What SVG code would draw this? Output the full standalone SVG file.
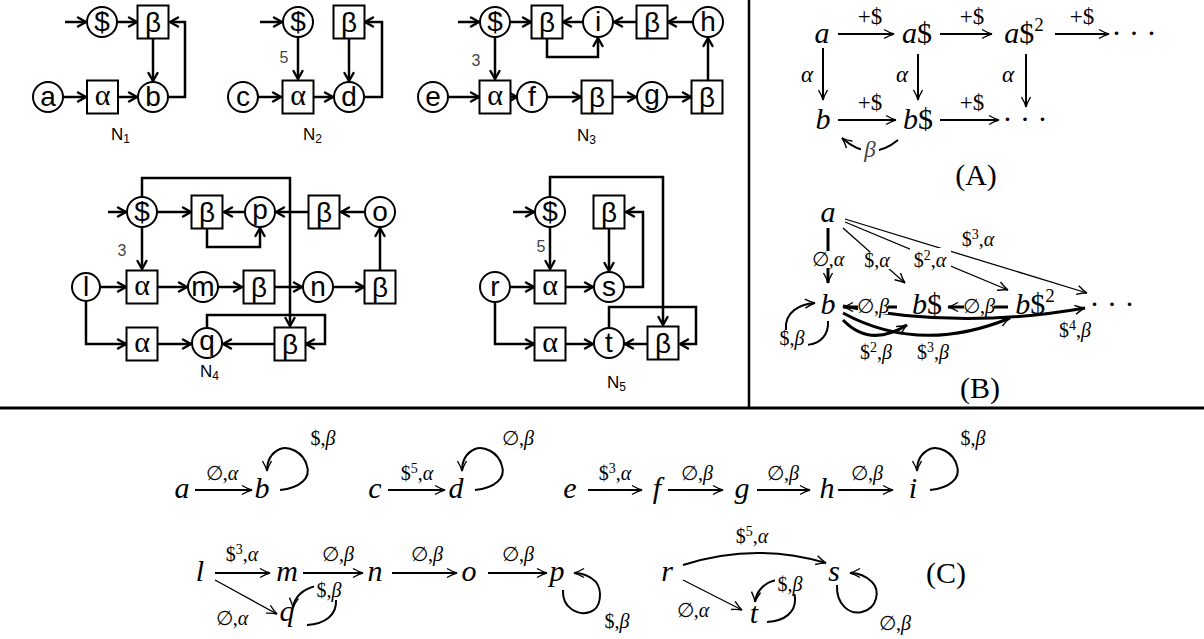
<svg xmlns="http://www.w3.org/2000/svg" width="1204" height="639" viewBox="0 0 1204 639">
<style>
.c{fill:#fff;stroke:#000;stroke-width:2}
.t{font-family:"Liberation Sans",Arial,sans-serif;font-size:28px;text-anchor:middle}
.al{font-family:"Liberation Serif",serif;font-size:30px;text-anchor:middle}
.w{fill:none;stroke:#000;stroke-width:2.5;marker-end:url(#ah)}
.nl{font-family:"Liberation Sans",Arial,sans-serif;font-size:17px}
.sub{font-size:12px}
.num{font-family:"Liberation Sans",Arial,sans-serif;font-size:16px;fill:#444;text-anchor:middle}
.m{font-family:"Liberation Serif","DejaVu Serif",serif;font-size:30px;font-style:italic;text-anchor:middle}
.up{font-style:normal}
.l{font-family:"Liberation Serif","DejaVu Serif",serif;font-size:20px;text-anchor:middle}
.pl{font-family:"Liberation Serif","DejaVu Serif",serif;font-size:23px;text-anchor:middle}
.i{font-style:italic}
.bg{fill:#fff;stroke:none}
.cap{font-family:"Liberation Serif","DejaVu Serif",serif;font-size:30px;text-anchor:middle}
.e{fill:none;stroke:#000;stroke-width:2;marker-end:url(#la)}
.e3{fill:none;stroke:#000;stroke-width:3;marker-end:url(#la)}
.e1{fill:none;stroke:#000;stroke-width:1.3;marker-end:url(#la)}
.frame{stroke:#000;fill:none}
</style>
<defs>
<marker id="ah" viewBox="0 0 12 12" refX="10" refY="6" markerWidth="12" markerHeight="12" markerUnits="userSpaceOnUse" orient="auto"><path d="M2,1.5 L10,6 L2,10.5" fill="none" stroke="#000" stroke-width="2.4" stroke-linejoin="round" stroke-linecap="round"/></marker>
<marker id="la" viewBox="0 0 12 12" refX="11" refY="6" markerWidth="12" markerHeight="12" markerUnits="userSpaceOnUse" orient="auto"><path d="M1,1.5 Q7,5 11,6 Q7,7 1,10.5" fill="none" stroke="#000" stroke-width="1.4"/></marker>
</defs>
<rect width="1204" height="639" fill="#fff"/>
<g id="frame" class="frame">
<line x1="749" y1="0" x2="749" y2="408" stroke-width="2.5"/>
<line x1="0" y1="408" x2="1204" y2="408" stroke-width="3"/>
</g>

<!-- N1 -->
<g id="N1-connectors">
<line class="w" x1="65" y1="22" x2="86" y2="22"/>
<line class="w" x1="117" y1="22" x2="137" y2="22"/>
<line class="w" x1="153" y1="39" x2="153" y2="81"/>
<line class="w" x1="63" y1="97" x2="86" y2="97"/>
<line class="w" x1="117" y1="97" x2="137" y2="97"/>
<polyline class="w" points="168,97 185,97 185,22 170,22"/>
</g>
<g id="N1-s"><circle class="c" cx="102" cy="22" r="15"/><text class="t" x="102" y="31">$</text></g>
<g id="N1-beta"><rect class="c" x="137.5" y="5.5" width="31" height="33"/><text class="t" x="153" y="32">β</text></g>
<g id="N1-a"><circle class="c" cx="48" cy="97" r="15"/><text class="t" x="48" y="106">a</text></g>
<g id="N1-alpha"><rect class="c" x="87" y="80.5" width="31" height="33"/><text class="al" x="102.5" y="105">α</text></g>
<g id="N1-b"><circle class="c" cx="153" cy="97" r="15"/><text class="t" x="153" y="106">b</text></g>
<text class="nl" x="111" y="140">N<tspan class="sub" dy="3">1</tspan></text>

<!-- N2 -->
<g id="N2-connectors">
<line class="w" x1="260" y1="22" x2="282" y2="22"/>
<line class="w" x1="298" y1="37" x2="298" y2="79"/>
<line class="w" x1="258" y1="97" x2="281" y2="97"/>
<line class="w" x1="313" y1="97" x2="333" y2="97"/>
<line class="w" x1="349" y1="39" x2="349" y2="81"/>
<polyline class="w" points="364,97 382,97 382,22 365,22"/>
<text class="num" x="284" y="63">5</text>
</g>
<g id="N2-s"><circle class="c" cx="298" cy="22" r="15"/><text class="t" x="298" y="31">$</text></g>
<g id="N2-beta"><rect class="c" x="333.5" y="5.5" width="31" height="33"/><text class="t" x="349" y="32">β</text></g>
<g id="N2-c"><circle class="c" cx="243" cy="97" r="15"/><text class="t" x="243" y="106">c</text></g>
<g id="N2-alpha"><rect class="c" x="282.5" y="80.5" width="31" height="33"/><text class="al" x="298" y="105">α</text></g>
<g id="N2-d"><circle class="c" cx="349" cy="97" r="15"/><text class="t" x="349" y="106">d</text></g>
<text class="nl" x="303" y="140">N<tspan class="sub" dy="3">2</tspan></text>

<!-- N3 -->
<g id="N3-connectors">
<line class="w" x1="458" y1="22" x2="479" y2="22"/>
<line class="w" x1="510" y1="22" x2="531" y2="22"/>
<line class="w" x1="583" y1="22" x2="563" y2="22"/>
<line class="w" x1="637" y1="22" x2="614" y2="22"/>
<line class="w" x1="693" y1="22" x2="668" y2="22"/>
<polyline class="w" points="547,38.5 547,57 598,57 598,38"/>
<line class="w" x1="495" y1="37" x2="495" y2="79"/>
<line class="w" x1="448" y1="97" x2="479" y2="97"/>
<line class="w" x1="510" y1="97" x2="517" y2="97"/>
<line class="w" x1="547" y1="97" x2="581" y2="97"/>
<line class="w" x1="613" y1="97" x2="636" y2="97"/>
<line class="w" x1="667" y1="97" x2="691" y2="97"/>
<line class="w" x1="708" y1="80" x2="708" y2="38"/>
<text class="num" x="476" y="66">3</text>
</g>
<g id="N3-s"><circle class="c" cx="495" cy="22" r="15"/><text class="t" x="495" y="31">$</text></g>
<g id="N3-beta1"><rect class="c" x="531.5" y="5.5" width="31" height="33"/><text class="t" x="547" y="32">β</text></g>
<g id="N3-i"><circle class="c" cx="598" cy="22" r="15"/><text class="t" x="598" y="31">i</text></g>
<g id="N3-beta2"><rect class="c" x="636.5" y="5.5" width="31" height="33"/><text class="t" x="652" y="32">β</text></g>
<g id="N3-h"><circle class="c" cx="708" cy="22" r="15"/><text class="t" x="708" y="31">h</text></g>
<g id="N3-e"><circle class="c" cx="433" cy="97" r="15"/><text class="t" x="433" y="106">e</text></g>
<g id="N3-alpha"><rect class="c" x="479.5" y="80.5" width="31" height="33"/><text class="al" x="495" y="105">α</text></g>
<g id="N3-f"><circle class="c" cx="532" cy="97" r="15"/><text class="t" x="532" y="106">f</text></g>
<g id="N3-beta3"><rect class="c" x="581.5" y="80.5" width="31" height="33"/><text class="t" x="597" y="107">β</text></g>
<g id="N3-g"><circle class="c" cx="652" cy="97" r="15"/><text class="t" x="652" y="104">g</text></g>
<g id="N3-beta4"><rect class="c" x="691.5" y="80.5" width="31" height="33"/><text class="t" x="707" y="107">β</text></g>
<text class="nl" x="577" y="141">N<tspan class="sub" dy="3">3</tspan></text>

<!-- N4 -->
<g id="N4-connectors">
<line class="w" x1="108" y1="212" x2="126" y2="212"/>
<line class="w" x1="157" y1="212" x2="191" y2="212"/>
<line class="w" x1="245" y1="212" x2="224" y2="212"/>
<line class="w" x1="308" y1="212" x2="276" y2="212"/>
<line class="w" x1="365" y1="212" x2="341" y2="212"/>
<polyline class="w" points="207,228.5 207,247 260,247 260,228"/>
<line class="w" x1="142" y1="227" x2="142" y2="269"/>
<polyline class="w" points="142,197 142,178 290,178 290,326"/>
<line class="w" x1="100" y1="287" x2="126" y2="287"/>
<line class="w" x1="157" y1="287" x2="187" y2="287"/>
<line class="w" x1="218" y1="287" x2="242" y2="287"/>
<line class="w" x1="275" y1="287" x2="302" y2="287"/>
<line class="w" x1="333" y1="287" x2="364" y2="287"/>
<line class="w" x1="380" y1="270" x2="380" y2="228"/>
<polyline class="w" points="86,301 86,344 126,344"/>
<line class="w" x1="157" y1="344" x2="191" y2="344"/>
<line class="w" x1="274" y1="344" x2="223" y2="344"/>
<polyline class="w" points="207,328 207,315 325,315 325,344 306,344"/>
<text class="num" x="122" y="256">3</text>
</g>
<g id="N4-s"><circle class="c" cx="142" cy="212" r="15"/><text class="t" x="142" y="221">$</text></g>
<g id="N4-beta1"><rect class="c" x="191.5" y="195.5" width="31" height="33"/><text class="t" x="207" y="222">β</text></g>
<g id="N4-p"><circle class="c" cx="260" cy="212" r="15"/><text class="t" x="260" y="219">p</text></g>
<g id="N4-beta2"><rect class="c" x="308.5" y="195.5" width="31" height="33"/><text class="t" x="324" y="222">β</text></g>
<g id="N4-o"><circle class="c" cx="380" cy="212" r="15"/><text class="t" x="380" y="221">o</text></g>
<g id="N4-l"><circle class="c" cx="86" cy="287" r="14"/><text class="t" x="86" y="296">l</text></g>
<g id="N4-alpha1"><rect class="c" x="126.5" y="270.5" width="31" height="33"/><text class="al" x="142" y="295">α</text></g>
<g id="N4-m"><circle class="c" cx="203" cy="287" r="15"/><text class="t" x="203" y="296">m</text></g>
<g id="N4-beta3"><rect class="c" x="243.5" y="270.5" width="31" height="33"/><text class="t" x="259" y="297">β</text></g>
<g id="N4-n"><circle class="c" cx="318" cy="287" r="15"/><text class="t" x="318" y="296">n</text></g>
<g id="N4-beta4"><rect class="c" x="364.5" y="270.5" width="31" height="33"/><text class="t" x="380" y="297">β</text></g>
<g id="N4-alpha2"><rect class="c" x="126.5" y="327.5" width="31" height="33"/><text class="al" x="142" y="352">α</text></g>
<g id="N4-q"><circle class="c" cx="207" cy="343" r="15"/><text class="t" x="207" y="350">q</text></g>
<g id="N4-beta5"><rect class="c" x="274.5" y="327.5" width="31" height="33"/><text class="t" x="290" y="354">β</text></g>
<text class="nl" x="200" y="377">N<tspan class="sub" dy="3">4</tspan></text>

<!-- N5 -->
<g id="N5-connectors">
<line class="w" x1="513" y1="212" x2="534" y2="212"/>
<polyline class="w" points="550,197 550,177 663,177 663,325"/>
<line class="w" x1="609" y1="228.5" x2="609" y2="271"/>
<line class="w" x1="550" y1="227" x2="550" y2="269"/>
<line class="w" x1="510" y1="287" x2="534" y2="287"/>
<line class="w" x1="566" y1="287" x2="593" y2="287"/>
<polyline class="w" points="624,287 643,287 643,212 626,212"/>
<polyline class="w" points="495,302 495,344 534,344"/>
<line class="w" x1="566" y1="344" x2="593" y2="344"/>
<line class="w" x1="647" y1="344" x2="625" y2="344"/>
<polyline class="w" points="609,328 609,307 696,307 696,344 680,344"/>
<text class="num" x="541" y="252">5</text>
</g>
<g id="N5-dollar"><circle class="c" cx="550" cy="212" r="15"/><text class="t" x="550" y="221">$</text></g>
<g id="N5-beta1"><rect class="c" x="593.5" y="195.5" width="31" height="33"/><text class="t" x="609" y="222">β</text></g>
<g id="N5-r"><circle class="c" cx="495" cy="287" r="15"/><text class="t" x="495" y="296">r</text></g>
<g id="N5-alpha1"><rect class="c" x="534.5" y="270.5" width="31" height="33"/><text class="al" x="550" y="295">α</text></g>
<g id="N5-s"><circle class="c" cx="609" cy="287" r="15"/><text class="t" x="609" y="296">s</text></g>
<g id="N5-alpha2"><rect class="c" x="534.5" y="327.5" width="31" height="33"/><text class="al" x="550" y="352">α</text></g>
<g id="N5-t"><circle class="c" cx="609" cy="343" r="15"/><text class="t" x="609" y="352">t</text></g>
<g id="N5-beta2"><rect class="c" x="647.5" y="326.5" width="31" height="33"/><text class="t" x="663" y="353">β</text></g>
<text class="nl" x="607" y="388">N<tspan class="sub" dy="3">5</tspan></text>

<!-- (A) -->
<g id="A-nodes">
<g id="A-a"><text class="m" x="822" y="43">a</text></g>
<g id="A-a1"><text class="m" x="917" y="43">a<tspan class="up">$</tspan></text></g>
<g id="A-a2"><text class="m" x="1024" y="43">a<tspan class="up">$</tspan><tspan class="up" font-size="19" dy="-12">2</tspan></text></g>
<g id="A-adots"><text class="m up" x="1134" y="43">· · ·</text></g>
<g id="A-b"><text class="m" x="823" y="129">b</text></g>
<g id="A-b1"><text class="m" x="918" y="129">b<tspan class="up">$</tspan></text></g>
<g id="A-bdots"><text class="m up" x="1025" y="129">· · ·</text></g>
</g>
<g id="A-connectors">
<line class="e" x1="838" y1="34" x2="894" y2="34"/>
<line class="e" x1="940" y1="34" x2="992" y2="34"/>
<line class="e" x1="1055" y1="34" x2="1109" y2="34"/>
<line class="e" x1="823" y1="48" x2="823" y2="100" stroke-width="2.8"/>
<line class="e" x1="918" y1="54" x2="918" y2="100"/>
<line class="e" x1="1026" y1="54" x2="1026" y2="107"/>
<line class="e" x1="838" y1="120" x2="896" y2="120"/>
<line class="e" x1="940" y1="120" x2="999" y2="120"/>
<path class="e" d="M898,140 Q870,163 842,138" stroke-width="2.5"/>
<text class="pl" x="870" y="24">+$</text>
<text class="pl" x="972" y="24">+$</text>
<text class="pl" x="1082" y="24">+$</text>
<text class="pl i" x="807" y="82">α</text>
<text class="pl i" x="902" y="82">α</text>
<text class="pl i" x="1008" y="82">α</text>
<text class="pl" x="870" y="110">+$</text>
<text class="pl" x="972" y="110">+$</text>
<rect class="bg" x="861" y="141" width="18" height="19"/>
<text class="pl i" x="870" y="157" fill="#444">β</text>
</g>
<text class="cap" x="976" y="185">(A)</text>

<!-- (B) -->
<g id="B-connectors">
<line class="e3" x1="828" y1="228" x2="828" y2="283"/>
<line class="e1" x1="843" y1="228" x2="905" y2="283"/>
<line class="e1" x1="845" y1="222" x2="1008" y2="290"/>
<line class="e1" x1="845" y1="219" x2="1087" y2="293"/>
<line class="e3" x1="897" y1="307" x2="843" y2="307"/>
<line class="e3" x1="1008" y1="307" x2="948" y2="307"/>
<path class="e3" d="M843,306 Q960,330 1085,308"/>
<path class="e3" d="M843,313 Q920,355 1010,318"/>
<path class="e3" d="M843,320 Q870,348 907,325"/>
<path class="e" stroke-width="2.5" d="M828,321 C830,350 790,352 786,330 C784,312 800,304 815,303"/>
<rect class="bg" x="812" y="251" width="32" height="17"/>
<text class="l" x="828" y="266">∅,<tspan class="i">α</tspan></text>
<rect class="bg" x="862" y="252" width="31" height="17"/>
<text class="l" x="877" y="267">$,<tspan class="i">α</tspan></text>
<rect class="bg" x="910" y="248" width="41" height="21"/>
<text class="l" x="930" y="267">$<tspan font-size="14" dy="-7">2</tspan><tspan dy="7">,</tspan><tspan class="i">α</tspan></text>
<text class="l" x="978" y="246">$<tspan font-size="14" dy="-7">3</tspan><tspan dy="7">,</tspan><tspan class="i">α</tspan></text>
<rect class="bg" x="858" y="298" width="30" height="16"/>
<text class="l" x="873" y="313">∅,<tspan class="i">β</tspan></text>
<rect class="bg" x="964" y="298" width="30" height="16"/>
<text class="l" x="979" y="313">∅,<tspan class="i">β</tspan></text>
<rect class="bg" x="777" y="330" width="31" height="18"/>
<text class="l" x="792" y="345">$,<tspan class="i">β</tspan></text>
<text class="l" x="876" y="359">$<tspan font-size="14" dy="-7">2</tspan><tspan dy="7">,</tspan><tspan class="i">β</tspan></text>
<text class="l" x="933" y="359">$<tspan font-size="14" dy="-7">3</tspan><tspan dy="7">,</tspan><tspan class="i">β</tspan></text>
<text class="l" x="1075" y="337">$<tspan font-size="14" dy="-7">4</tspan><tspan dy="7">,</tspan><tspan class="i">β</tspan></text>
</g>
<g id="B-nodes">
<g id="B-a"><text class="m" x="828" y="222">a</text></g>
<g id="B-b"><text class="m" x="828" y="314">b</text></g>
<g id="B-b1"><text class="m" x="927" y="314">b<tspan class="up">$</tspan></text></g>
<g id="B-b2"><text class="m" x="1035" y="314">b<tspan class="up">$</tspan><tspan class="up" font-size="19" dy="-12">2</tspan></text></g>
<g id="B-dots"><text class="m up" x="1112" y="314">· · ·</text></g>
</g>
<text class="cap" x="980" y="398">(B)</text>

<!-- (C) -->
<g id="C-nodes">
<g id="C-a"><text class="m" x="182" y="498">a</text></g>
<g id="C-b"><text class="m" x="262" y="498">b</text></g>
<g id="C-c"><text class="m" x="375" y="498">c</text></g>
<g id="C-d"><text class="m" x="456" y="498">d</text></g>
<g id="C-e"><text class="m" x="570" y="498">e</text></g>
<g id="C-f"><text class="m" x="657" y="498">f</text></g>
<g id="C-g"><text class="m" x="742" y="498">g</text></g>
<g id="C-h"><text class="m" x="827" y="498">h</text></g>
<g id="C-i"><text class="m" x="913" y="498">i</text></g>
<g id="C-l"><text class="m" x="200" y="581">l</text></g>
<g id="C-m"><text class="m" x="287" y="581">m</text></g>
<g id="C-n"><text class="m" x="375" y="581">n</text></g>
<g id="C-o"><text class="m" x="469" y="581">o</text></g>
<g id="C-p"><text class="m" x="557" y="581">p</text></g>
<g id="C-q"><text class="m" x="287" y="621">q</text></g>
<g id="C-r"><text class="m" x="667" y="581">r</text></g>
<g id="C-s"><text class="m" x="834" y="581">s</text></g>
<g id="C-t"><text class="m" x="754" y="623">t</text></g>
</g>
<g id="C-connectors">
<line class="e" x1="195" y1="490" x2="252" y2="490"/>
<path class="e" stroke-width="2.5" d="M280,490 C300,488 311,478 307,466 C303,451 288,446 280,449 C271,453 267,461 267,471"/>
<line class="e" x1="388" y1="490" x2="445" y2="490"/>
<path class="e" stroke-width="2.5" d="M475,490 C495,488 506,478 502,466 C498,451 483,446 475,449 C466,453 462,461 462,471"/>
<line class="e" x1="588" y1="490" x2="642" y2="490"/>
<line class="e" x1="668" y1="490" x2="723" y2="490"/>
<line class="e" x1="757" y1="490" x2="810" y2="490"/>
<line class="e" x1="838" y1="490" x2="893" y2="490"/>
<path class="e" stroke-width="2.5" d="M930,490 C950,488 961,478 957,466 C953,451 938,446 930,449 C921,453 917,461 917,471"/>
<line class="e" x1="215" y1="573" x2="270" y2="573"/>
<line class="e" x1="303" y1="573" x2="363" y2="573"/>
<line class="e" x1="392" y1="573" x2="457" y2="573"/>
<line class="e" x1="488" y1="573" x2="547" y2="573"/>
<path class="e" stroke-width="2.5" d="M563,590 C562,608 578,616 590,612 C602,608 602,590 596,582 C590,576 582,573 574,573"/>
<line class="e1" x1="215" y1="580" x2="277" y2="614"/>
<path class="e" stroke-width="2.5" d="M307,625 C325,624 337,615 336,600 C335,588 325,584 316,586 C303,589 294,597 293,608"/>
<path class="e" stroke-width="2.5" d="M683,565 Q755,542 826,563"/>
<path class="e" stroke-width="2.5" d="M837,585 C836,605 850,615 862,612 C878,608 880,590 872,582 C866,576 858,573 850,573"/>
<line class="e1" x1="683" y1="580" x2="742" y2="610"/>
<path class="e" stroke-width="2.5" d="M767,622 C785,621 796,612 795,598 C794,586 786,580 777,580 C764,582 756,592 755,602"/>
<text class="l" x="222" y="480">∅,<tspan class="i">α</tspan></text>
<text class="l" x="323" y="445">$,<tspan class="i">β</tspan></text>
<text class="l" x="417" y="480">$<tspan font-size="14" dy="-7">5</tspan><tspan dy="7">,</tspan><tspan class="i">α</tspan></text>
<text class="l" x="518" y="445">∅,<tspan class="i">β</tspan></text>
<text class="l" x="615" y="480">$<tspan font-size="14" dy="-7">3</tspan><tspan dy="7">,</tspan><tspan class="i">α</tspan></text>
<text class="l" x="697" y="480">∅,<tspan class="i">β</tspan></text>
<text class="l" x="783" y="480">∅,<tspan class="i">β</tspan></text>
<text class="l" x="867" y="480">∅,<tspan class="i">β</tspan></text>
<text class="l" x="973" y="445">$,<tspan class="i">β</tspan></text>
<text class="l" x="242" y="561">$<tspan font-size="14" dy="-7">3</tspan><tspan dy="7">,</tspan><tspan class="i">α</tspan></text>
<text class="l" x="338" y="561">∅,<tspan class="i">β</tspan></text>
<text class="l" x="427" y="561">∅,<tspan class="i">β</tspan></text>
<text class="l" x="518" y="561">∅,<tspan class="i">β</tspan></text>
<text class="l" x="617" y="628">$,<tspan class="i">β</tspan></text>
<text class="l" x="232" y="625">∅,<tspan class="i">α</tspan></text>
<rect class="bg" x="314" y="582" width="30" height="18"/>
<text class="l" x="329" y="597">$,<tspan class="i">β</tspan></text>
<text class="l" x="752" y="543">$<tspan font-size="14" dy="-7">5</tspan><tspan dy="7">,</tspan><tspan class="i">α</tspan></text>
<text class="l" x="895" y="630">∅,<tspan class="i">β</tspan></text>
<text class="l" x="693" y="617">∅,<tspan class="i">α</tspan></text>
<rect class="bg" x="775" y="576" width="30" height="18"/>
<text class="l" x="790" y="591">$,<tspan class="i">β</tspan></text>
</g>
<text class="cap" x="946" y="583">(C)</text>
</svg>
